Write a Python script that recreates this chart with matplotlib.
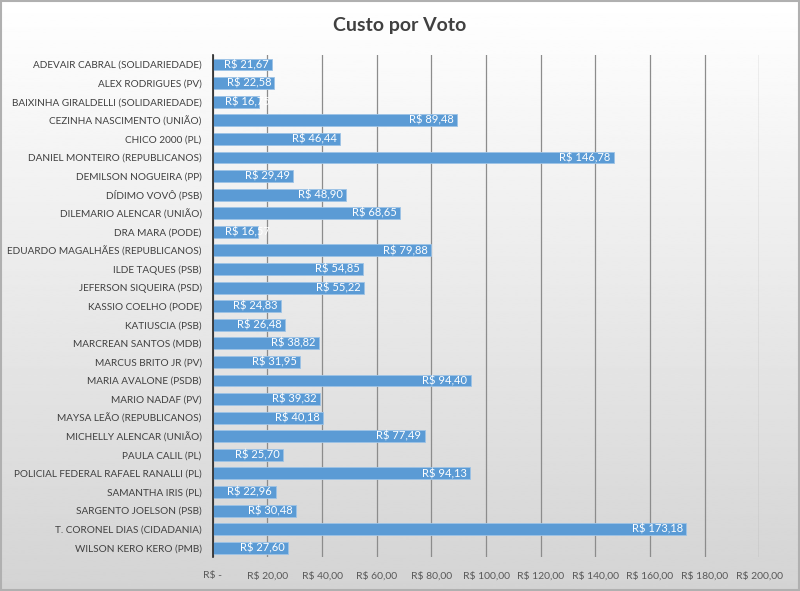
import numpy as np
import matplotlib.pyplot as plt

plt.rcParams['font.family'] = ['Lato', 'DejaVu Sans']

candidatos = [
    "ADEVAIR CABRAL (SOLIDARIEDADE)", "ALEX RODRIGUES (PV)", "BAIXINHA GIRALDELLI (SOLIDARIEDADE)",
    "CEZINHA NASCIMENTO (UNIÃO)", "CHICO 2000 (PL)", "DANIEL MONTEIRO (REPUBLICANOS)",
    "DEMILSON NOGUEIRA (PP)", "DÍDIMO VOVÔ (PSB)", "DILEMARIO ALENCAR (UNIÃO)",
    "DRA MARA (PODE)", "EDUARDO MAGALHÃES (REPUBLICANOS)", "ILDE TAQUES (PSB)",
    "JEFERSON SIQUEIRA (PSD)", "KASSIO COELHO (PODE)", "KATIUSCIA (PSB)",
    "MARCREAN SANTOS (MDB)", "MARCUS BRITO JR (PV)", "MARIA AVALONE (PSDB)",
    "MARIO NADAF (PV)", "MAYSA LEÃO (REPUBLICANOS)", "MICHELLY ALENCAR (UNIÃO)",
    "PAULA CALIL (PL)", "POLICIAL FEDERAL RAFAEL RANALLI (PL)", "SAMANTHA IRIS (PL)",
    "SARGENTO JOELSON (PSB)", "T. CORONEL DIAS (CIDADANIA)", "WILSON KERO KERO (PMB)",
]
custo = [21.67, 22.58, 16.75, 89.48, 46.44, 146.78, 29.49, 48.90, 68.65, 16.57, 79.88,
         54.85, 55.22, 24.83, 26.48, 38.82, 31.95, 94.40, 39.32, 40.18, 77.49, 25.70,
         94.13, 22.96, 30.48, 173.18, 27.60]
ticks = [0, 20, 40, 60, 80, 100, 120, 140, 160, 180, 200]


def brl(v):
    if v == 0:
        return "R$ -"
    return "R$ " + f"{v:,.2f}".replace(",", "X").replace(".", ",").replace("X", ".")


fig = plt.figure(figsize=(8, 5.91), dpi=100)

# fundo em degradê
bg = fig.add_axes([0, 0, 1, 1], zorder=-1)
grad = np.linspace(1.0, 0.83, 256).reshape(-1, 1)
bg.imshow(grad, aspect="auto", cmap="gray", vmin=0, vmax=1, extent=[0, 1, 0, 1])
bg.set_xlim(0, 1)
bg.set_ylim(0, 1)
bg.axis("off")
bg.add_patch(plt.Rectangle((0.001, 0.001), 0.998, 0.998, fill=False, ec="#b0b0b0", lw=1.5))

ax = fig.add_axes([0.266, 0.0575, 0.683, 0.849])
ax.patch.set_alpha(0)
y = np.arange(len(candidatos))
ax.barh(y, custo, height=0.64, color="#5b9bd5", edgecolor="#9dc3e6", linewidth=0.6, zorder=3)

for yi, v in zip(y, custo):
    if v < 20:
        # rótulo não cabe: o Excel encosta no início da barra
        ax.text(4.6, yi, brl(v), ha="left", va="center", color="white", fontsize=8, zorder=4)
    else:
        ax.text(v - 1.2, yi, brl(v), ha="right", va="center", color="white", fontsize=8, zorder=4)

ax.set_xlim(0, 200)
ax.set_ylim(len(candidatos) - 0.5, -0.5)
ax.set_yticks(y)
ax.set_yticklabels(candidatos, fontsize=7.2, color="#404040")
ax.set_xticks(ticks)
ax.set_xticklabels([brl(t) for t in ticks], fontsize=7.5, color="#595959")
ax.tick_params(axis="y", length=0, pad=8)
ax.tick_params(axis="x", length=0, pad=10)
ax.grid(axis="x", color="#8c8c8c", linewidth=0.9, zorder=0)
ax.set_axisbelow(True)
for s in ["top", "right", "bottom"]:
    ax.spines[s].set_visible(False)
ax.spines["left"].set_color("#262626")
ax.spines["left"].set_linewidth(1.2)
ax.spines["left"].set_zorder(5)

fig.text(0.5, 0.957, "Custo por Voto", ha="center", va="center",
         fontsize=14, fontweight="bold", color="#404040")

fig.savefig("out.png", dpi=100)
